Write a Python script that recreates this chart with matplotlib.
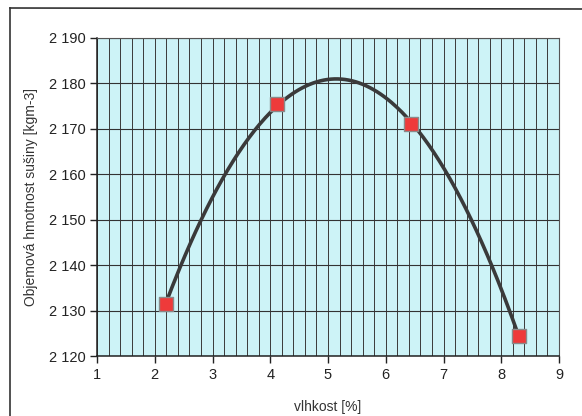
import numpy as np
import matplotlib
matplotlib.use("Agg")
import matplotlib.pyplot as plt
from matplotlib.lines import Line2D

plt.rcParams['font.family'] = ['Liberation Sans', 'DejaVu Sans']

moisture = [2.19, 4.12, 6.44, 8.31]
density = [2131.4, 2175.5, 2171.0, 2124.3]
y_ticks = [2120, 2130, 2140, 2150, 2160, 2170, 2180, 2190]
y_tick_labels = ["2 120", "2 130", "2 140", "2 150", "2 160", "2 170", "2 180", "2 190"]
x_ticks = [1, 2, 3, 4, 5, 6, 7, 8, 9]
x_label = "vlhkost [%]"
y_label = "Objemová hmotnost sušiny [kgm-3]"

fig = plt.figure(figsize=(5.82, 4.16), dpi=100)
ax = fig.add_axes([0.1667, 0.1442, 0.7938, 0.7645])
ax.set_facecolor('#cdf3f7')

# quadratic trendline
coef = np.polyfit(moisture, density, 2)
xs = np.linspace(min(moisture), max(moisture), 200)
ax.plot(xs, np.polyval(coef, xs), color='#3a3a3a', lw=2.6, zorder=3, solid_capstyle='round')
ax.scatter(moisture, density, marker='s', s=110, color='#ee3a3a', edgecolor='#8a8a8a', lw=1.0, zorder=4)

ax.set_xlim(1, 9)
ax.set_ylim(2120, 2190)
ax.set_xticks(x_ticks)
ax.set_xticks(np.arange(1, 9.01, 0.2), minor=True)
ax.set_yticks(y_ticks)
ax.set_yticklabels(y_tick_labels)
ax.grid(which='major', axis='y', color='#333333', lw=0.8)
ax.grid(which='both', axis='x', color='#3a3a3a', lw=0.7)
ax.tick_params(axis='x', which='minor', length=0)
ax.tick_params(axis='both', which='major', length=5, width=1, color='#222222', labelsize=10.5, labelcolor='#222222')
ax.tick_params(axis='y', pad=3)
for s in ['top', 'right']:
    ax.spines[s].set_color('#555555')
    ax.spines[s].set_linewidth(0.8)
for s in ['left', 'bottom']:
    ax.spines[s].set_color('#222222')
    ax.spines[s].set_linewidth(1.1)

ax.set_xlabel(x_label, fontsize=10, color='#333333', labelpad=13)
ax.set_ylabel(y_label, fontsize=10, color='#333333', labelpad=8)

# outer frame lines (scan border)
fig.add_artist(Line2D([10/582, 10/582], [0, 1 - 8/416], color='#333333', lw=1.2, transform=fig.transFigure))
fig.add_artist(Line2D([10/582, 1], [1 - 8/416, 1 - 9/416], color='#333333', lw=1.2, transform=fig.transFigure))

fig.savefig('out.png', dpi=100)
